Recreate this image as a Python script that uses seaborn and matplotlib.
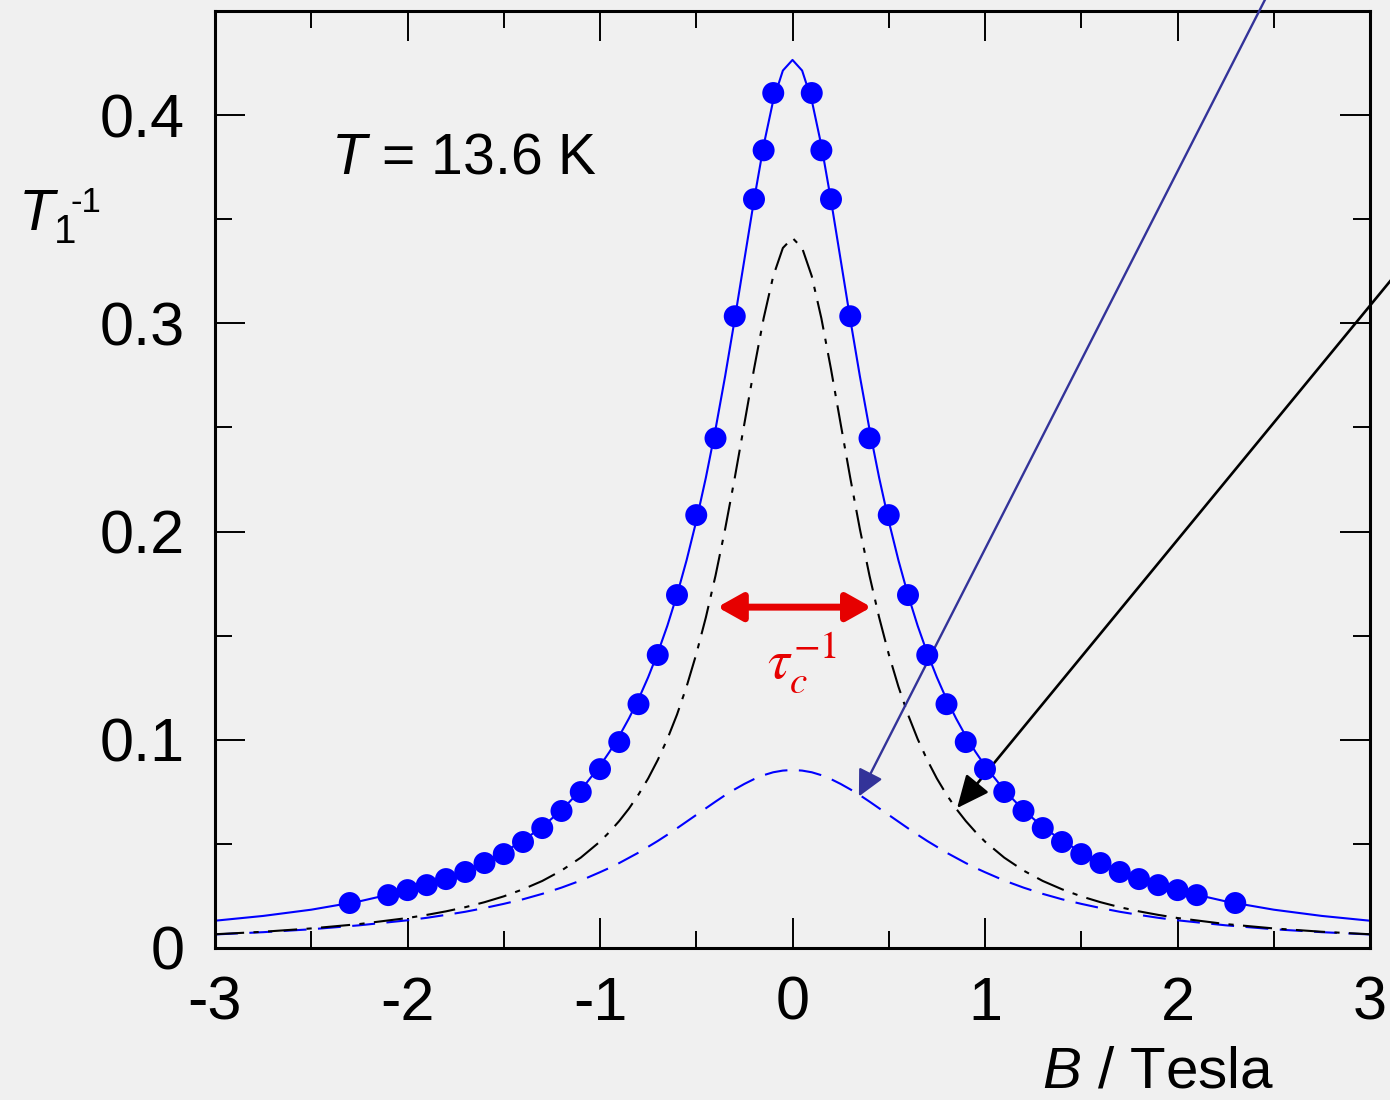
#!/usr/bin/env python3
"""Field dependence of the relaxation rate T1^-1 at T = 13.6 K."""

import numpy as np
import pandas as pd
import matplotlib
matplotlib.use("Agg")
import matplotlib.pyplot as plt
from matplotlib.ticker import FixedLocator, FixedFormatter
import seaborn as sns

# measured points (B in tesla, rate)
b_points = [-2.3, -2.1, -2.0, -1.9, -1.8, -1.7, -1.6, -1.5, -1.4, -1.3, -1.2, -1.1,
            -1.0, -0.9, -0.8, -0.7, -0.6, -0.5, -0.4, -0.3, -0.2, -0.15, -0.1,
            0.1, 0.15, 0.2, 0.3, 0.4, 0.5, 0.6, 0.7, 0.8, 0.9, 1.0, 1.1, 1.2,
            1.3, 1.4, 1.5, 1.6, 1.7, 1.8, 1.9, 2.0, 2.1, 2.3]
rate_points = [0.0216, 0.0254, 0.0278, 0.0302, 0.0331, 0.0365, 0.0408, 0.0451, 0.0509,
               0.0576, 0.0658, 0.0749, 0.0859, 0.0989, 0.1171, 0.1407, 0.1695, 0.2079,
               0.2448, 0.3034, 0.3596, 0.3831, 0.4106,
               0.4106, 0.3831, 0.3596, 0.3034, 0.2448, 0.2079, 0.1695, 0.1407, 0.1171,
               0.0989, 0.0859, 0.0749, 0.0658, 0.0576, 0.0509, 0.0451, 0.0408, 0.0365,
               0.0331, 0.0302, 0.0278, 0.0254, 0.0216]

# curves, read for B >= 0 (the picture is symmetric about B = 0)
b_curve = [0.0, 0.05, 0.1, 0.15, 0.2, 0.25, 0.3, 0.35, 0.4, 0.45, 0.5, 0.55, 0.6, 0.65,
           0.7, 0.75, 0.8, 0.85, 0.9, 0.95, 1.0, 1.1, 1.2, 1.3, 1.4, 1.5, 1.6, 1.7,
           1.8, 1.9, 2.0, 2.25, 2.5, 2.75, 3.0]
fit_total = [0.4265, 0.4214, 0.4071, 0.3854, 0.3591, 0.3306, 0.3020, 0.2746, 0.2491,
             0.2259, 0.2050, 0.1863, 0.1696, 0.1548, 0.1417, 0.1300, 0.1195, 0.1102,
             0.1018, 0.0943, 0.0875, 0.0758, 0.0662, 0.0582, 0.0516, 0.0460, 0.0412,
             0.0370, 0.0335, 0.0304, 0.0277, 0.0224, 0.0184, 0.0154, 0.0131]
fit_narrow = [0.3410, 0.3362, 0.3227, 0.3024, 0.2780, 0.2518, 0.2258, 0.2012, 0.1788,
              0.1588, 0.1411, 0.1256, 0.1121, 0.1004, 0.0903, 0.0814, 0.0737, 0.0669,
              0.0610, 0.0558, 0.0511, 0.0434, 0.0372, 0.0322, 0.0282, 0.0248, 0.0220,
              0.0196, 0.0176, 0.0159, 0.0144, 0.0115, 0.0094, 0.0078, 0.0066]
fit_broad = [0.0855, 0.0852, 0.0844, 0.0830, 0.0811, 0.0788, 0.0762, 0.0734, 0.0703,
             0.0671, 0.0639, 0.0607, 0.0575, 0.0544, 0.0514, 0.0486, 0.0458, 0.0433,
             0.0408, 0.0385, 0.0364, 0.0324, 0.0290, 0.0260, 0.0234, 0.0212, 0.0192,
             0.0174, 0.0159, 0.0145, 0.0133, 0.0109, 0.0090, 0.0076, 0.0065]

x_ticks = [-3, -2, -1, 0, 1, 2, 3]
x_minor = [-2.5, -1.5, -0.5, 0.5, 1.5, 2.5]
y_ticks = [0, 0.1, 0.2, 0.3, 0.4]
y_labels = ["0", "0.1", "0.2", "0.3", "0.4"]
y_minor = [0.05, 0.15, 0.25, 0.35, 0.45]


def mirrored(xs, ys):
    xs = np.asarray(xs)
    ys = np.asarray(ys)
    return np.concatenate([-xs[:0:-1], xs]), np.concatenate([ys[:0:-1], ys])


sns.set_style("ticks")
bg = "#f0f0f0"
plt.rcParams["font.family"] = ["Liberation Sans", "DejaVu Sans"]
plt.rcParams["text.color"] = "black"
plt.rcParams["mathtext.fontset"] = "custom"
plt.rcParams["mathtext.rm"] = "Liberation Sans"
plt.rcParams["mathtext.it"] = "Liberation Sans:italic"
plt.rcParams["axes.unicode_minus"] = False

fig = plt.figure(figsize=(13.9, 11), dpi=100, facecolor=bg)
ax = fig.add_axes([215 / 1390, 152 / 1100, 1155 / 1390, 937 / 1100])
ax.set_facecolor(bg)

rows = []
for name, ys in [("total", fit_total), ("narrow", fit_narrow), ("broad", fit_broad)]:
    xx, yy = mirrored(b_curve, ys)
    rows.append(pd.DataFrame({"B": xx, "rate": yy, "curve": name}))
curves = pd.concat(rows, ignore_index=True)

sns.lineplot(data=curves[curves.curve == "broad"], x="B", y="rate", ax=ax,
             color="#0000ff", lw=1.5, sort=False)
ax.lines[-1].set_dashes([11, 5.5])
sns.lineplot(data=curves[curves.curve == "narrow"], x="B", y="rate", ax=ax,
             color="black", lw=1.5, sort=False)
ax.lines[-1].set_dashes([14, 4.5, 2.5, 4.5])
sns.lineplot(data=curves[curves.curve == "total"], x="B", y="rate", ax=ax,
             color="#0000ff", lw=1.5, sort=False)

pts = pd.DataFrame({"B": b_points, "rate": rate_points})
sns.scatterplot(data=pts, x="B", y="rate", ax=ax, color="#0000ff", s=250,
                edgecolor="none", zorder=5)

ax.set_xlim(-3, 3)
ax.set_ylim(0, 0.45)
ax.xaxis.set_major_locator(FixedLocator(x_ticks))
ax.xaxis.set_minor_locator(FixedLocator(x_minor))
ax.set_xticklabels([str(t) for t in x_ticks])
ax.yaxis.set_major_locator(FixedLocator(y_ticks))
ax.yaxis.set_major_formatter(FixedFormatter(y_labels))
ax.yaxis.set_minor_locator(FixedLocator(y_minor))
ax.tick_params(which="both", direction="in", top=True, right=True, width=1.4,
               colors="black", labelcolor="black")
ax.tick_params(which="major", length=21.5, labelsize=44, pad=22)
ax.tick_params(which="minor", length=12.5)
ax.tick_params(axis="x", which="major", pad=20)
for sp in ax.spines.values():
    sp.set_linewidth(2.2)
    sp.set_color("black")
ax.set_xlabel("")
ax.set_ylabel("")

# labels
fig.text(18 / 1390, 1 - 230 / 1100, "$T$", fontsize=42, va="baseline", ha="left")
fig.text(54 / 1390, 1 - 243 / 1100, "1", fontsize=29, va="baseline", ha="left")
fig.text(70 / 1390, 1 - 212 / 1100, "-1", fontsize=25, va="baseline", ha="left")
fig.text(1042 / 1390, 1 - 1088 / 1100, "$B$ / Tesla", fontsize=42, va="baseline",
         ha="left")
ax.text(-2.40, 0.372, "$T$ = 13.6 K", fontsize=41, va="baseline", ha="left")

# linewidth arrow and label
ax.annotate("", xy=(-0.39, 0.1637), xytext=(0.41, 0.1637),
            arrowprops=dict(arrowstyle="<|-|>,head_length=0.75,head_width=0.42",
                            mutation_scale=20, color="#e60000", lw=5,
                            shrinkA=0, shrinkB=0))
ax.text(-0.13, 0.1296, r"$\tau_c^{-1}$", fontsize=40, color="#e60000",
        va="baseline", ha="left", math_fontfamily="stix")

# pointer arrows coming in from outside the frame
ax.annotate("", xy=(0.345, 0.0728), xytext=(2.51, 0.4655), annotation_clip=False,
            arrowprops=dict(arrowstyle="-|>,head_length=0.8,head_width=0.4",
                            mutation_scale=20, color="#333399", lw=1.7,
                            shrinkA=0, shrinkB=0))
ax.annotate("", xy=(0.855, 0.0672), xytext=(3.16, 0.3265), annotation_clip=False,
            arrowprops=dict(arrowstyle="-|>,head_length=1.0,head_width=0.45",
                            mutation_scale=20, color="black", lw=1.9,
                            shrinkA=0, shrinkB=0))

fig.savefig("out.png", dpi=100, facecolor=bg)
plt.close(fig)
